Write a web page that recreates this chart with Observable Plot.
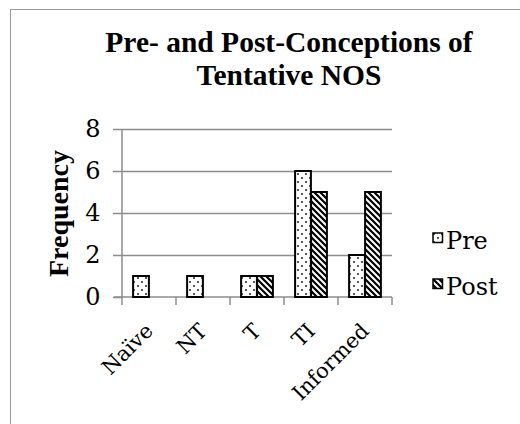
<!DOCTYPE html>
<html><head><meta charset="utf-8">
<script src="https://cdn.jsdelivr.net/npm/d3@7"></script>
<script src="https://cdn.jsdelivr.net/npm/@observablehq/plot@0.6"></script>
<style>
body{margin:0;background:#fff;}
#wrap{position:relative;width:520px;height:424px;overflow:hidden;font-family:"DejaVu Serif",serif;color:#000;}
#frame{position:absolute;left:10px;top:9px;width:700px;height:700px;border-left:1.5px solid #9a9a9a;border-top:1.5px solid #9a9a9a;}
#title{position:absolute;left:39px;top:0;width:500px;padding-top:26px;text-align:center;font-family:"Liberation Serif",serif;font-weight:bold;font-size:29.5px;line-height:33px;}
#chart{position:absolute;left:0;top:100px;}
.legtxt{position:absolute;left:446px;font-size:24px;line-height:30px;}
.sw{position:absolute;left:432px;}
</style></head>
<body>
<svg width="0" height="0" style="position:absolute">
  <defs>
    <pattern id="dots" patternUnits="userSpaceOnUse" width="8" height="8">
      <rect width="8" height="8" fill="#fff"/>
      <circle cx="2" cy="2" r="1" fill="#222"/>
      <circle cx="6" cy="6" r="1" fill="#222"/>
    </pattern>
    <pattern id="stripes" patternUnits="userSpaceOnUse" width="6" height="6">
      <rect width="6" height="6" fill="#fff"/>
      <path d="M-1.5,4.5 L1.5,7.5 M0,0 L6,6 M4.5,-1.5 L7.5,1.5" stroke="#000" stroke-width="2.2"/>
    </pattern>
  </defs>
</svg>
<div id="wrap">
  <div id="frame"></div>
  <div id="title"></div>
  <div id="chart"></div>
  <div id="legend"></div>
</div>
<script>
const titleLines = ["Pre- and Post-Conceptions of", "Tentative NOS"];
const categories = ["Naïve", "NT", "T", "TI", "Informed"];
const series = ["Pre", "Post"];
const preValues = [1, 1, 1, 6, 2];
const postValues = [0, 0, 1, 5, 5];
const yTicks = [0, 2, 4, 6, 8];
const yLabel = ["Frequency"];
const seriesFill = {Pre: "url(#dots)", Post: "url(#stripes)"};

document.getElementById("title").innerHTML = titleLines.join("<br>");

const W = 520, H = 324, ML = 121, MR = 128, MT = 29, MB = 127;
const step = (W - ML - MR) / categories.length;
const barW = 16;
const outer = (step - 2 * barW) / 2;

const rows = [];
categories.forEach((c, i) => {
  rows.push({cat: c, series: "Pre", v: preValues[i]});
  rows.push({cat: c, series: "Post", v: postValues[i]});
});
const preRows = rows.filter(d => d.series === "Pre" && d.v > 0);
const postRows = rows.filter(d => d.series === "Post" && d.v > 0);

const grey = "#8c8c8c";

function axisLines(index, scales, values, dims) {
  const x = scales.x, y = scales.y;
  const bw = x.bandwidth ? x.bandwidth() : scales.scales.x.bandwidth;
  const g = d3.create("svg:g").attr("stroke", grey).attr("stroke-width", 1.5);
  const y0 = y(0), yTop = y(d3.max(yTicks));
  const edges = categories.map(c => x(c)).concat([x(categories[categories.length - 1]) + bw]);
  g.append("line").attr("x1", edges[0]).attr("x2", edges[0]).attr("y1", yTop).attr("y2", y0);
  g.append("line").attr("x1", edges[0] - 8).attr("x2", edges[edges.length - 1]).attr("y1", y0).attr("y2", y0);
  for (const e of edges) {
    g.append("line").attr("x1", e).attr("x2", e).attr("y1", y0).attr("y2", y0 + 8);
  }
  return g.node();
}

const plot = Plot.plot({
  width: W, height: H,
  marginLeft: ML, marginRight: MR, marginTop: MT, marginBottom: MB,
  style: {fontFamily: "DejaVu Serif, serif", background: "transparent", color: "#000", overflow: "visible"},
  x: {domain: categories, padding: 0, label: null},
  y: {domain: [0, 8], label: null},
  marks: [
    Plot.gridY(yTicks.filter(d => d > 0), {stroke: grey, strokeOpacity: 1, strokeWidth: 1.5}),
    Plot.axisY(yTicks, {tickSize: 8, tickPadding: 13, stroke: grey, strokeWidth: 1.5, fontSize: 24, label: null}),
    Plot.axisX({tickSize: 0, tickRotate: -45, tickPadding: 30, fontSize: 21, label: null}),
    Plot.text(yLabel, {frameAnchor: "left", textAnchor: "middle", text: d => d, rotate: -90, dx: -62,
      fontSize: 28, fontWeight: "bold", fontFamily: "Liberation Serif, serif"}),
    axisLines,
    Plot.barY(preRows, {x: "cat", y: "v", fill: seriesFill.Pre, stroke: "#000", strokeWidth: 2,
      insetLeft: outer, insetRight: step - outer - barW,
      style: "filter: drop-shadow(1.5px 1.5px 1.2px rgba(0,0,0,0.3))"}),
    Plot.barY(postRows, {x: "cat", y: "v", fill: seriesFill.Post, stroke: "#000", strokeWidth: 2,
      insetLeft: outer + barW, insetRight: outer})
  ]
});
document.getElementById("chart").appendChild(plot);

const leg = document.getElementById("legend");
const legTop = [226, 272];
const swTop = [232, 278];
series.forEach((s, i) => {
  const sw = document.createElementNS("http://www.w3.org/2000/svg", "svg");
  sw.setAttribute("width", 12); sw.setAttribute("height", 12);
  sw.setAttribute("class", "sw");
  sw.style.top = swTop[i] + "px";
  sw.innerHTML = `<rect x="1" y="1" width="9.5" height="9.5" fill="${seriesFill[s]}" stroke="#000" stroke-width="1.5"/>`;
  leg.appendChild(sw);
  const t = document.createElement("div");
  t.className = "legtxt";
  t.style.top = legTop[i] + "px";
  t.textContent = s;
  leg.appendChild(t);
});
</script>
</body></html>
